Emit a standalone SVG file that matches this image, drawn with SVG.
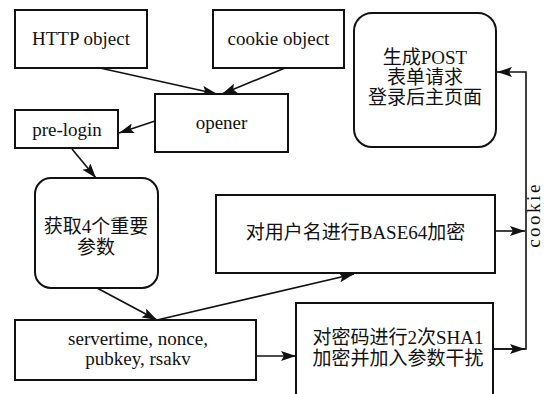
<svg xmlns="http://www.w3.org/2000/svg" width="552" height="394" viewBox="0 0 552 394">
<style>
.box{fill:#fff;stroke:#111;stroke-width:2}
.t{font-family:"Liberation Serif","Noto Sans CJK SC",serif;font-size:19px;fill:#111;text-anchor:middle}
.c{fill:none;stroke:#111;stroke-width:1.6}
</style>
<defs>
<marker id="ah" markerUnits="userSpaceOnUse" markerWidth="16" markerHeight="10" refX="15" refY="5" orient="auto">
<path d="M0,0 L15,5 L0,10 L3,5 z" fill="#111"/>
</marker>
</defs>
<rect width="552" height="394" fill="#fff"/>
<g id="connectors">
<line class="c" x1="100" y1="68" x2="217" y2="94" marker-end="url(#ah)"/>
<line class="c" x1="285" y1="68" x2="222" y2="94" marker-end="url(#ah)"/>
<line class="c" x1="155" y1="121" x2="119" y2="133" marker-end="url(#ah)"/>
<line class="c" x1="72" y1="149" x2="96" y2="178" marker-end="url(#ah)"/>
<line class="c" x1="97" y1="288" x2="157" y2="320" marker-end="url(#ah)"/>
<line class="c" x1="157" y1="320" x2="354" y2="274" marker-end="url(#ah)"/>
<line class="c" x1="256" y1="356" x2="296" y2="356" marker-end="url(#ah)"/>
<line class="c" x1="495" y1="231" x2="525" y2="231" marker-end="url(#ah)"/>
<line class="c" x1="493" y1="349" x2="525" y2="349" marker-end="url(#ah)"/>
<polyline class="c" points="493,349 526,349 526,72 497,72" marker-end="url(#ah)"/>
<text class="t" transform="translate(540,215) rotate(-90)" style="letter-spacing:2.5px">cookie</text>
</g>
<g id="http">
<rect class="box" x="15" y="10" width="132" height="58"/>
<text class="t" x="81" y="45">HTTP object</text>
</g>
<g id="cookieobj">
<rect class="box" x="213" y="10" width="131" height="58"/>
<text class="t" x="278.5" y="45">cookie object</text>
</g>
<g id="opener">
<rect class="box" x="155" y="94" width="133" height="58"/>
<text class="t" x="221.5" y="129">opener</text>
</g>
<g id="prelogin">
<rect class="box" x="15" y="110" width="103" height="38"/>
<text class="t" x="67" y="136">pre-login</text>
</g>
<g id="getparams">
<rect class="box" x="35" y="178" width="123" height="110" rx="16"/>
<text class="t" x="96" y="233">获取4个重要</text>
<text class="t" x="96" y="254">参数</text>
</g>
<g id="params">
<rect class="box" x="15" y="320" width="241" height="60"/>
<text class="t" x="138" y="345">servertime, nonce,</text>
<text class="t" x="138" y="365">pubkey, rsakv</text>
</g>
<g id="base64">
<rect class="box" x="216" y="195" width="279" height="78"/>
<text class="t" x="355.5" y="239">对用户名进行BASE64加密</text>
</g>
<g id="sha1">
<rect class="box" x="296" y="303" width="197" height="100"/>
<text class="t" x="398" y="344">对密码进行2次SHA1</text>
<text class="t" x="398" y="365">加密并加入参数干扰</text>
</g>
<g id="post">
<rect class="box" x="354" y="13" width="142" height="134" rx="18"/>
<text class="t" x="425" y="64">生成POST</text>
<text class="t" x="425" y="84">表单请求</text>
<text class="t" x="425" y="104">登录后主页面</text>
</g>
</svg>
